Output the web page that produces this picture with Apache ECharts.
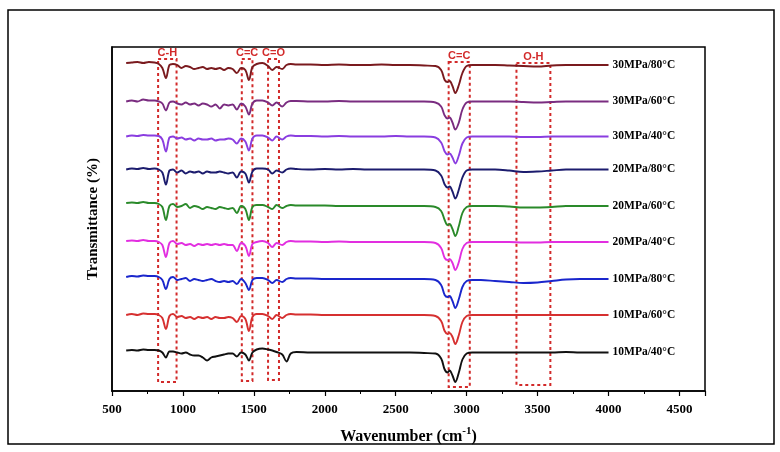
<!DOCTYPE html>
<html>
<head>
<meta charset="utf-8">
<script src="https://cdn.jsdelivr.net/npm/echarts@6/dist/echarts.min.js"></script>
<style>
html,body{margin:0;padding:0;background:#fff;}
#chart{width:780px;height:452px;}
</style>
</head>
<body>
<div id="chart"></div>
<script>
// Wavenumber grid (cm-1)
var wavenumbers = [
  600,640,680,720,760,800,
  830,855,880,905,930,960,
  990,1020,1050,1080,1110,1140,
  1170,1200,1230,1260,1290,1320,
  1350,1380,1410,1440,1465,1490,
  1520,1560,1600,1630,1660,1700,
  1730,1760,1800,1900,2000,2100,
  2200,2300,2400,2500,2600,2700,
  2780,2820,2845,2865,2880,2900,
  2920,2945,2970,3000,3040,3100,
  3200,3300,3400,3500,3600,3700,
  3800,3900,4000
];

// Series names (bottom to top) and vertical offsets of each trace
var seriesNames = ['10MPa/40°C','10MPa/60°C','10MPa/80°C','20MPa/40°C','20MPa/60°C','20MPa/80°C','30MPa/40°C','30MPa/60°C','30MPa/80°C'];
var offsets = [38.5, 76, 112, 149, 185, 221.5, 254.5, 289.5, 326];
var colors = ['#111111','#d63030','#1a26cc','#e22ee0','#2a8a2a','#1c1c6e','#8a3de0','#7a2c80','#7a1a1e'];

// Relative transmittance of each trace
var t10_40 = [2,2.5,2,3,2.5,2.5, 2,0,-5,1,1,0, -1,0,-2,-3,-3,-5, -8,-5,-4,-3,-2,-1, -1,-4,0,-2,-8,0, 3,4,3,2,0.5,-2, -9,-1,0.5,0,0,0, 0,0,0,0,0,-0.5, -1,-6,-17,-20,-18,-23, -29.5,-20,-7,-1,0,0, 0,0,0,0,0,0.5, 0,0,0];
var t10_60 = [0,1,0,1.5,1,1, 0,-3,-14,-1,1,-2, -1,-3,-2,-4,-2,-3, -2,-4,-2,-3,-3,-2, -3,-7,-1,-4,-16,-2, 1,1,-1,-4,0,-3, 0,1,0.5,0.5,0,0, 0,0,0,0,0,0, -1,-6,-16,-19,-18,-22, -29,-20,-7,-1,0,0, 0,0,0,0,0,0, 0,0,0];
var t10_80 = [2,3,2.5,3.5,3,3, 2,-1,-10,0,2,-1, 0,1,-2,0,-1,-2, -1,0,-2,-3,-2,-3, -2,-5,0,-4,-11,-1, 1,1,-1,-4,-1,-3, 0,1,0.5,0.5,0,0, 0,0,0,0,0,0, -1,-6,-16,-18,-17,-22, -29,-20,-8,-2,-1,-1, -2,-3,-4,-3.5,-2,-0.5, 0,0,0];
var t20_40 = [1,1.5,1,2,1,1, 0,-3,-15,-1,1,-2, -1,-3,-2,-4,-2,-3, -2,-3,-2,-3,-2,-3, -3,-9,-1,-4,-14,-2, 0,1,-1,-5,-1,-3, 0,1,0.5,0.5,0,0.5, 0,0,0,0,0,0, -1,-6,-16,-18,-17,-21, -28,-20,-7,-1,0,0, 0,0,-0.5,-0.5,0,0, 0,0,0];
var t20_60 = [3,3.5,3,4,3,3, 2,-1,-14,0,2,-1, 0,2,-2,0,-1,-3, -1,-2,-3,-1,-2,-3, -2,-7,0,-3,-14,-1, 1,1,-1,-3,1,-2, 0,1,0.5,0.5,0.5,0, 0,0,0,0,0,0, -1,-5,-14,-19,-18,-23, -30,-20,-7,-1,0,0, 0,-0.5,-1.5,-1.5,-1,0, 0,0,0];
var t20_80 = [0,1,0.5,1.5,0.5,1, 0,-3,-15,-1,0,-3, -1,-4,-2,-3,-2,-4, -2,-3,-3,-2,-3,-4, -3,-8,-2,-4,-13,-2, 1,1,0,-4,-1,-3, 0,1,0.5,0,0.5,0, 0.5,0,0,0,0,0, -1,-6,-15,-18,-17,-22, -29,-20,-8,-1,0,0, 0,-1,-2.5,-2,-1,0, 0,0,0];
var t30_40 = [0,1,0.5,1.5,1,1, 0.5,-3,-15,-1,0,-2, -1,-3,-2,-4,-2,-3, -3,-2,-4,-3,-3,-2, -3,-7,-2,-5,-14,-2, 1,1,-1,-4,0,-3, 0,1,0.5,0.5,0,0.5, 0,0,0,0.5,0,0, -1,-6,-15,-18,-17,-21, -27,-19,-7,-1,0,0, 0,0,-0.5,-0.5,0,0, 0,0,0];
var t30_60 = [0,1,0,2,1,1, 0,-2,-9,-1,0,-2, -3,-1,-3,-2,-4,-2, -3,-5,-3,-7,-3,-4, -3,-8,-2,-5,-13,-2, 1,1,-1,-4,-1,-5, -1,0.5,0.5,0,0,0.5, 0,0,0,0,0,0, -1,-5,-14,-17,-16,-21, -28,-21,-8,-1,0,0, 0,0,-0.5,-1,-0.5,0, 0,0,0];
var t30_80 = [2,2.5,3,2,3,2.5, 1,-3,-13,0,1,0, -3,-1,-2,-4,-3,-2, -4,-3,-4,-3,-5,-3, -4,-8,-3,-5,-15,-2, 1,2,-1,-5,-2,-4, 0,1,0.5,0.5,0,0.5, 0,0,0.5,0,0,-0.5, -1,-5,-15,-17,-16,-21, -28,-20,-8,-1,0,0, 0,-0.5,-1,-1.5,-0.5,0, 0,0,0];
var traces = [t10_40, t10_60, t10_80, t20_40, t20_60, t20_80, t30_40, t30_60, t30_80];

// Dashed annotation boxes
var boxNames  = ['C-H','C=C','C=O','C=C','O-H'];
var boxStart  = [825, 1415, 1600, 2873, 3351];
var boxEnd    = [955, 1490, 1677, 3022, 3590];
var boxTop    = [332, 332, 332, 329, 328];
var boxBottom = [9, 10, 11, 4, 6];

// Axis ticks
var xMin = 500, xMax = 4680, xStep = 500;

var serif = '"Liberation Serif","DejaVu Serif",serif';
var sans = '"Liberation Sans",Arial,sans-serif';

var series = traces.map(function (tr, k) {
  return {
    name: seriesNames[k],
    type: 'line',
    showSymbol: false,
    smooth: 0.35,
    lineStyle: { color: colors[k], width: 1.9 },
    itemStyle: { color: colors[k] },
    data: wavenumbers.map(function (w, i) { return [w, offsets[k] + tr[i]]; }),
    endLabel: {
      show: true,
      formatter: function (p) { return p.seriesName; },
      color: '#000',
      fontFamily: serif,
      fontWeight: 'bold',
      fontSize: 11.5,
      distance: 4
    },
    z: 3
  };
});

series.push({
  name: 'boxes',
  type: 'line',
  data: [],
  markArea: {
    silent: true,
    itemStyle: {
      color: 'rgba(0,0,0,0)',
      borderColor: '#d22a2a',
      borderWidth: 2,
      borderType: [3, 3]
    },
    label: {
      show: true,
      position: 'top',
      distance: 0,
      color: '#d22a2a',
      fontFamily: sans,
      fontWeight: 'bold',
      fontSize: 11
    },
    data: boxNames.map(function (n, i) {
      return [
        { name: n, coord: [boxStart[i], boxTop[i]] },
        { coord: [boxEnd[i], boxBottom[i]] }
      ];
    })
  },
  z: 2
});

var chart = echarts.init(document.getElementById('chart'));
chart.setOption({
  animation: false,
  backgroundColor: '#fff',
  graphic: [{
    type: 'rect',
    shape: { x: 8, y: 10, width: 766, height: 434 },
    style: { fill: 'none', stroke: '#000', lineWidth: 1.5 },
    z: 0
  }],
  grid: {
    left: 112, right: 75, top: 47, bottom: 61,
    show: true, borderColor: '#000', borderWidth: 1.5
  },
  xAxis: {
    type: 'value',
    min: xMin, max: xMax, interval: xStep,
    name: '{a|Wavenumber (cm}{s|-1}{a|)}',
    nameLocation: 'middle',
    nameGap: 35,
    nameTextStyle: {
      rich: {
        a: { fontFamily: serif, fontWeight: 'bold', fontSize: 16, color: '#000', verticalAlign: 'bottom' },
        s: { fontFamily: serif, fontWeight: 'bold', fontSize: 11, color: '#000', verticalAlign: 'top', padding: [0, 0, 8, 0] }
      }
    },
    axisLine: { show: true, onZero: false, lineStyle: { color: '#000', width: 1.5 } },
    axisTick: { show: true, inside: false, length: 5, lineStyle: { color: '#000', width: 1.2 } },
    minorTick: { show: true, splitNumber: 2, length: 3, lineStyle: { color: '#000', width: 1 } },
    axisLabel: {
      showMaxLabel: false,
      margin: 12,
      formatter: function (v) { return String(v); },
      color: '#000', fontFamily: serif, fontWeight: 'bold', fontSize: 13
    },
    splitLine: { show: false }
  },
  yAxis: {
    type: 'value',
    min: 0, max: 344,
    name: 'Transmittance (%)',
    nameLocation: 'middle',
    nameGap: 11,
    nameTextStyle: { fontFamily: serif, fontWeight: 'bold', fontSize: 15, color: '#000' },
    axisLine: { show: true, lineStyle: { color: '#000', width: 1.5 } },
    axisTick: { show: false },
    axisLabel: { show: false },
    splitLine: { show: false }
  },
  series: series
});
</script>
</body>
</html>
